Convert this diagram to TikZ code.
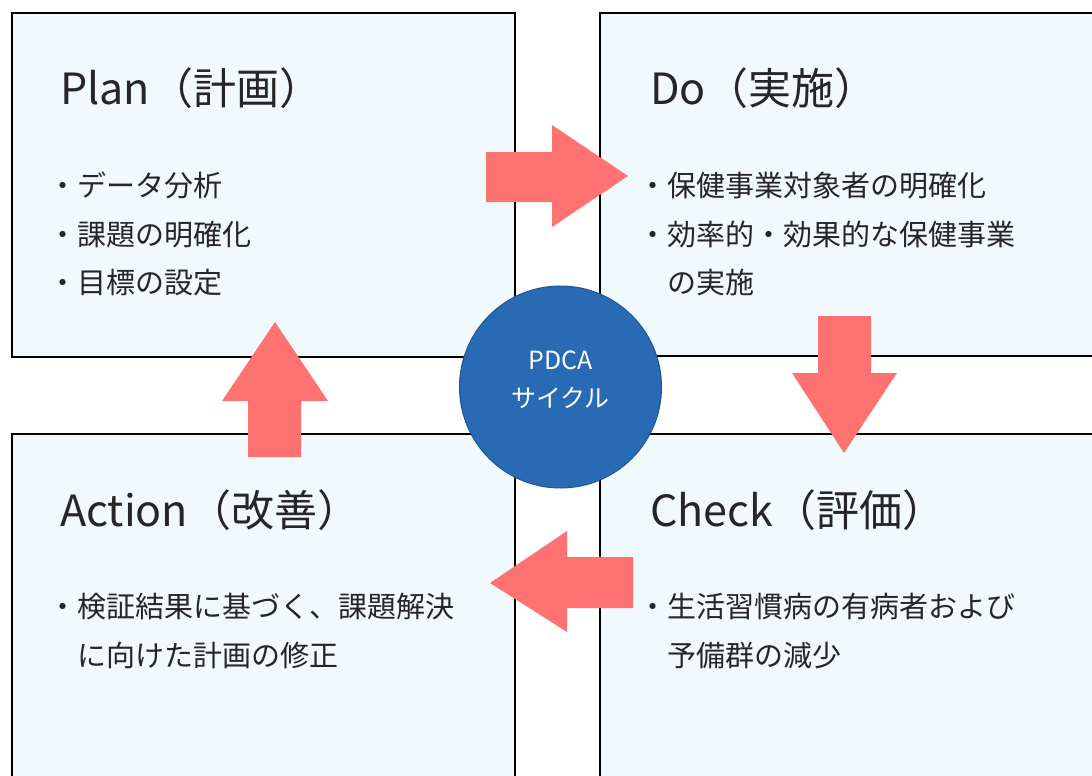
\documentclass[tikz,border=0pt]{standalone}
\usepackage{fontspec}
\newfontfamily\jp{Noto Sans CJK JP}
\definecolor{boxfill}{RGB}{240,249,252}
\definecolor{arrowred}{RGB}{255,114,114}
\definecolor{circblue}{RGB}{40,106,180}
\definecolor{circedge}{RGB}{28,86,150}
\tikzset{
  panel/.style={draw=black, line width=2.2pt, fill=boxfill, anchor=north west, inner sep=0pt},
  titletext/.style={anchor=base west, inner sep=0pt, font=\jp\fontsize{43}{50}\selectfont, text=black!85},
  bodytext/.style={anchor=base west, inner sep=0pt, font=\jp\fontsize{29}{34}\selectfont, text=black!85},
  circtext/.style={inner sep=0pt, font=\jp\fontsize{25}{30}\selectfont, text=white},
  blockarrow/.style={fill=arrowred}
}
\begin{document}
\begin{tikzpicture}[x=1pt, y=-1pt]
\useasboundingbox[fill=white] (0,0) rectangle (1092,776);
\begin{scope}
\clip (0,0) rectangle (1092,776);
% panels
\node[panel, minimum width=503pt, minimum height=344pt] (plan) at (11,12) {};
\node[panel, minimum width=501pt, minimum height=343pt] (do) at (599,12) {};
\node[panel, minimum width=503pt, minimum height=357pt] (action) at (11,433) {};
\node[panel, minimum width=501pt, minimum height=357pt] (check) at (599,433) {};
% titles
\node[titletext] (plantitle) at (60,104) {Plan（計画）};
\node[titletext] (dotitle) at (650,104) {Do（実施）};
\node[titletext] (actiontitle) at (60,526) {Action（改善）};
\node[titletext] (checktitle) at (650,526) {Check（評価）};
% body texts
\node[bodytext] (p1) at (48,196) {・データ分析};
\node[bodytext] (p2) at (48,245) {・課題の明確化};
\node[bodytext] (p3) at (48,293) {・目標の設定};
\node[bodytext] (d1) at (638,196) {・保健事業対象者の明確化};
\node[bodytext] (d2) at (638,245) {・効率的・効果的な保健事業};
\node[bodytext] (d3) at (667,293) {の実施};
\node[bodytext] (a1) at (48,617) {・検証結果に基づく、課題解決};
\node[bodytext] (a2) at (77,666) {に向けた計画の修正};
\node[bodytext] (c1) at (638,617) {・生活習慣病の有病者および};
\node[bodytext] (c2) at (667,666) {予備群の減少};
% block arrows
\fill[blockarrow] (486,152) -- (552,152) -- (552,125) -- (628,176) -- (552,227) -- (552,202) -- (486,202) -- cycle;
\fill[blockarrow] (818,316) -- (871,316) -- (871,373) -- (897,373) -- (844,453) -- (792,373) -- (818,373) -- cycle;
\fill[blockarrow] (633,557) -- (633,608) -- (567,608) -- (567,632) -- (490,583) -- (567,531) -- (567,557) -- cycle;
\fill[blockarrow] (248,457) -- (248,401) -- (222,401) -- (275,322) -- (328,401) -- (301,401) -- (301,457) -- cycle;
% centre circle
\node[circle, fill=circblue, draw=circedge, line width=1pt, minimum size=202pt, inner sep=0pt] (pdca) at (560.5,387) {};
\node[circtext] (pdca1) at (560.5,360) {PDCA};
\node[circtext] (pdca2) at (560.5,398) {サイクル};
\end{scope}
\end{tikzpicture}
\end{document}
